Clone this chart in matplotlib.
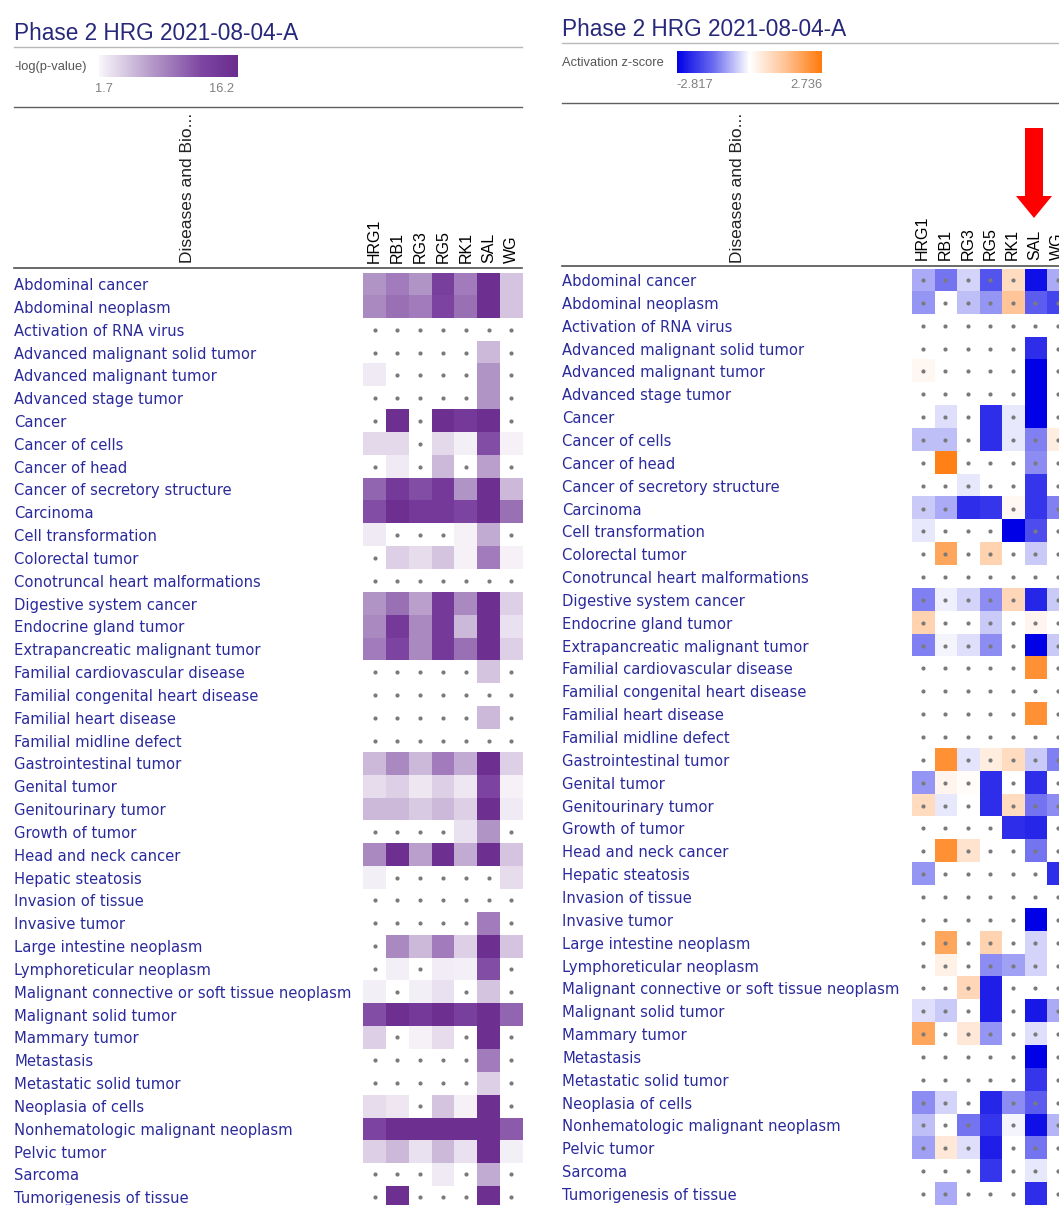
import matplotlib
matplotlib.use('Agg')
import matplotlib.pyplot as plt
import numpy as np
from matplotlib.colors import LinearSegmentedColormap, TwoSlopeNorm, Normalize
from matplotlib.patches import FancyArrow

N = np.nan

title = 'Phase 2 HRG 2021-08-04-A'
column_header = 'Diseases and Bio...'
samples = ['HRG1', 'RB1', 'RG3', 'RG5', 'RK1', 'SAL', 'WG']
diseases = [
    'Abdominal cancer', 'Abdominal neoplasm', 'Activation of RNA virus',
    'Advanced malignant solid tumor', 'Advanced malignant tumor', 'Advanced stage tumor',
    'Cancer', 'Cancer of cells', 'Cancer of head', 'Cancer of secretory structure',
    'Carcinoma', 'Cell transformation', 'Colorectal tumor', 'Conotruncal heart malformations',
    'Digestive system cancer', 'Endocrine gland tumor', 'Extrapancreatic malignant tumor',
    'Familial cardiovascular disease', 'Familial congenital heart disease',
    'Familial heart disease', 'Familial midline defect', 'Gastrointestinal tumor',
    'Genital tumor', 'Genitourinary tumor', 'Growth of tumor', 'Head and neck cancer',
    'Hepatic steatosis', 'Invasion of tissue', 'Invasive tumor', 'Large intestine neoplasm',
    'Lymphoreticular neoplasm', 'Malignant connective or soft tissue neoplasm',
    'Malignant solid tumor', 'Mammary tumor', 'Metastasis', 'Metastatic solid tumor',
    'Neoplasia of cells', 'Nonhematologic malignant neoplasm', 'Pelvic tumor', 'Sarcoma',
    'Tumorigenesis of tissue',
]

# -log(p-value), nan = not significant (dot)
pvalue_min, pvalue_max = 1.7, 16.2
log_p = [
    [7.5, 9.0, 7.5, 13.3, 9.0, 15.5, 4.6],
    [8.2, 9.7, 9.0, 12.6, 9.7, 15.5, 4.6],
    [N, N, N, N, N, N, N],
    [N, N, N, N, N, 5.3, N],
    [2.4, N, N, N, N, 7.5, N],
    [N, N, N, N, N, 7.5, N],
    [N, 15.5, N, 15.5, 14.0, 15.5, N],
    [3.4, 3.4, N, 3.4, 2.1, 11.9, 2.0],
    [N, 2.4, N, 5.3, N, 6.8, N],
    [10.4, 14.0, 11.9, 14.0, 7.5, 15.5, 5.3],
    [11.9, 15.5, 14.0, 14.0, 12.6, 15.5, 9.7],
    [2.4, N, N, N, 2.0, 6.1, N],
    [N, 3.9, 3.2, 4.6, 2.0, 9.0, 2.0],
    [N, N, N, N, N, N, N],
    [7.5, 9.7, 6.8, 14.0, 8.2, 15.5, 3.9],
    [8.2, 14.0, 8.2, 14.0, 5.3, 15.5, 2.9],
    [9.0, 12.6, 8.2, 14.0, 9.7, 15.5, 3.9],
    [N, N, N, N, N, 4.6, N],
    [N, N, N, N, N, N, N],
    [N, N, N, N, N, 5.3, N],
    [N, N, N, N, N, N, N],
    [5.3, 8.2, 5.3, 9.0, 6.1, 15.5, 3.9],
    [3.2, 3.9, 2.6, 3.9, 2.6, 12.6, 2.0],
    [5.3, 5.3, 4.3, 5.3, 3.9, 15.5, 2.4],
    [N, N, N, N, 2.9, 7.5, N],
    [8.2, 15.5, 6.8, 15.5, 6.1, 15.5, 4.6],
    [2.1, N, N, N, N, N, 3.2],
    [N, N, N, N, N, N, N],
    [N, N, N, N, N, 9.0, N],
    [N, 8.2, 5.3, 9.0, 3.9, 15.5, 4.6],
    [N, 2.1, N, 2.3, 2.1, 11.9, N],
    [2.1, N, 2.1, 2.9, N, 4.6, N],
    [11.9, 15.5, 14.0, 15.5, 13.3, 15.5, 10.4],
    [3.9, N, 2.0, 3.2, N, 15.5, N],
    [N, N, N, N, N, 9.0, N],
    [N, N, N, N, N, 3.9, N],
    [3.2, 2.6, N, 4.6, 2.0, 15.5, N],
    [12.6, 15.5, 15.5, 15.5, 15.5, 15.5, 11.1],
    [3.9, 5.3, 2.9, 5.3, 2.9, 15.5, 2.1],
    [N, N, N, 2.4, N, 6.1, N],
    [N, 15.5, N, N, N, 15.5, N],
]

# activation z-score, nan = no prediction
z_min, z_max = -2.817, 2.736
z_score = [
    [-0.8, -1.3, -0.4, -1.7, 0.8, -2.6, -0.8],
    [-1.0, N, -0.6, -1.0, 1.3, -1.6, -1.9],
    [N, N, N, N, N, N, N],
    [N, N, N, N, N, -2.2, N],
    [0.15, N, N, N, N, -2.8, N],
    [N, N, N, N, N, -2.8, N],
    [N, -0.3, N, -2.2, -0.2, -2.8, N],
    [-0.6, -0.6, N, -2.2, -0.2, -1.2, 0.4],
    [N, 2.6, N, N, N, -1.1, N],
    [N, N, -0.2, N, N, -2.1, N],
    [-0.5, -0.8, -2.2, -2.1, 0.15, -2.1, -1.2],
    [-0.2, N, N, N, -2.8, -1.8, N],
    [N, 1.9, N, 1.0, N, -0.5, N],
    [N, N, N, N, N, N, N],
    [-1.2, -0.15, -0.4, -1.1, 0.9, -2.3, -0.5],
    [1.0, N, N, -0.5, N, 0.2, N],
    [-1.2, -0.1, -0.3, -1.1, N, -2.8, -0.5],
    [N, N, N, N, N, 2.3, N],
    [N, N, N, N, N, N, N],
    [N, N, N, N, N, 2.3, N],
    [N, N, N, N, N, N, N],
    [N, 2.3, -0.25, 0.4, 0.8, -0.5, -1.2],
    [-1.0, 0.2, 0.05, -2.2, N, -2.2, N],
    [0.8, -0.2, N, -2.2, 0.8, -1.3, -1.1],
    [N, N, N, N, -2.2, -2.3, N],
    [N, 2.3, 0.6, N, N, -1.3, N],
    [-1.0, N, N, N, N, N, -2.2],
    [N, N, N, N, N, N, N],
    [N, N, N, N, N, -2.8, N],
    [N, 1.9, N, 1.0, N, -0.4, N],
    [N, 0.3, N, -1.1, -0.9, -0.4, N],
    [N, N, 0.9, -2.4, N, N, N],
    [-0.3, -0.5, N, -2.4, N, -2.5, -0.8],
    [1.9, N, 0.5, -1.0, N, -0.3, N],
    [N, N, N, N, N, -2.8, N],
    [N, N, N, N, N, -2.1, N],
    [-1.1, -0.4, N, -2.3, -1.1, -1.6, N],
    [-0.6, N, -1.3, -2.1, -0.1, -2.6, -0.7],
    [-0.9, 0.5, -0.3, -2.4, N, -1.3, N],
    [N, N, N, -2.1, N, -0.2, N],
    [N, -0.8, N, N, N, -2.2, N],
]

W, H = 1059, 1205
fig = plt.figure(figsize=(W / 100, H / 100), dpi=100)
fig.patch.set_facecolor('white')

label_color = '#2a2a9c'
purple = LinearSegmentedColormap.from_list(
    'ipa_p', [(0.0, '#ffffff'), (0.08, '#f0eaf4'), (0.4, '#b599c9'),
              (0.75, '#7d45a1'), (1.0, '#6a2c8e')])
purple.set_bad('white')
bluorange = LinearSegmentedColormap.from_list(
    'ipa_z', ['#0000e6', '#6b6bf0', '#ffffff', '#ffc293', '#ff7a0a'])
bluorange.set_bad('white')
p_norm = Normalize(pvalue_min - 0.5, pvalue_max)
z_norm = TwoSlopeNorm(vmin=z_min, vcenter=0, vmax=z_max)


def px_axes(x0, y0, w, h):
    # pixel box (top-left origin) -> figure fraction
    return fig.add_axes([x0 / W, 1 - (y0 + h) / H, w / W, h / H])


def heatmap(x0, y0, cw, rh, values, cmap, norm, dots, label_x, tick_pad):
    nr, nc = values.shape
    ax = px_axes(x0, y0, cw * nc, rh * nr)
    ax.imshow(values, cmap=cmap, norm=norm, aspect='auto', interpolation='nearest')
    yy, xx = np.nonzero(dots)
    ax.scatter(xx, yy, s=9, color='#7a7a7a', linewidths=0, zorder=3)
    ax.set_xlim(-0.5, nc - 0.5)
    ax.set_ylim(nr - 0.5, -0.5)
    ax.set_yticks(range(nr))
    ax.set_yticklabels(diseases, ha='left', color=label_color,
                       fontsize=10.6, family='DejaVu Sans')
    ax.tick_params(axis='y', length=0, pad=(x0 - label_x) * 0.72)
    ax.xaxis.tick_top()
    ax.set_xticks(range(nc))
    ax.set_xticklabels(samples, rotation=90, fontsize=11.5, family='Liberation Sans')
    ax.tick_params(axis='x', length=0, pad=tick_pad)
    for s in ax.spines.values():
        s.set_visible(False)
    return ax


lp = np.array(log_p, dtype=float)
zs = np.array(z_score, dtype=float)

heatmap(363.3, 272.6, 22.77, 22.83, lp, purple, p_norm, np.isnan(lp), 14, 7.0)
heatmap(911.5, 268.6, 22.5, 22.85, zs, bluorange, z_norm,
        np.isnan(zs) | (np.abs(zs) < 2.0), 562, 6.0)

# colour legends
cax1 = px_axes(99, 55, 139, 22)
cb1 = fig.colorbar(plt.cm.ScalarMappable(p_norm, purple),
                   cax=cax1, orientation='horizontal', ticks=[])
cb1.ax.set_xlim(pvalue_min, pvalue_max)
cb1.outline.set_visible(False)
cax2 = px_axes(677, 51, 145, 22)
cb2 = fig.colorbar(plt.cm.ScalarMappable(z_norm, bluorange),
                   cax=cax2, orientation='horizontal', ticks=[])
cb2.outline.set_visible(False)

# overlay in pixel coordinates for header text, rules and arrow
ov = fig.add_axes([0, 0, 1, 1])
ov.set_xlim(0, W)
ov.set_ylim(H, 0)
ov.axis('off')
ov.patch.set_visible(False)

for x0, x1, ty, rules, cb_label, cb_y, lo, hi, lo_x, hi_x, ly, hdr_x in [
    (14, 522, 33, (47, 107, 268), '-log(p-value)', 67, '1.7', '16.2', 104, 222, 89, 188),
    (562, 1059, 30, (43, 103, 266), 'Activation z-score', 63, '-2.817', '2.736', 695, 806, 85, 737),
]:
    ov.text(x0, ty, title, fontsize=16.3, color='#28287a', family='Liberation Sans',
            va='center', ha='left')
    ov.plot([x0, x1], [rules[0]] * 2, color='#b8b8b8', lw=1.0)
    ov.plot([x0, x1], [rules[1]] * 2, color='#606060', lw=1.0)
    ov.plot([x0, x1], [rules[2]] * 2, color='#505050', lw=1.2)
    ov.text(x0, cb_y, cb_label, fontsize=9.3, color='#555555',
            family='Liberation Sans', va='center', ha='left')
    ov.text(lo_x, ly, lo, fontsize=9.3, color='#808080', family='Liberation Sans',
            ha='center', va='center')
    ov.text(hi_x, ly, hi, fontsize=9.3, color='#808080', family='Liberation Sans',
            ha='center', va='center')
    ov.text(hdr_x, 263, column_header, rotation=90, fontsize=12.5, family='Liberation Sans',
            ha='center', va='bottom', color='#222222')

ov.add_patch(FancyArrow(1034, 128, 0, 90, width=18, head_width=36, head_length=22,
                        length_includes_head=True, color='#ff0000', lw=0))

fig.savefig('out.png', dpi=100, facecolor='white')
